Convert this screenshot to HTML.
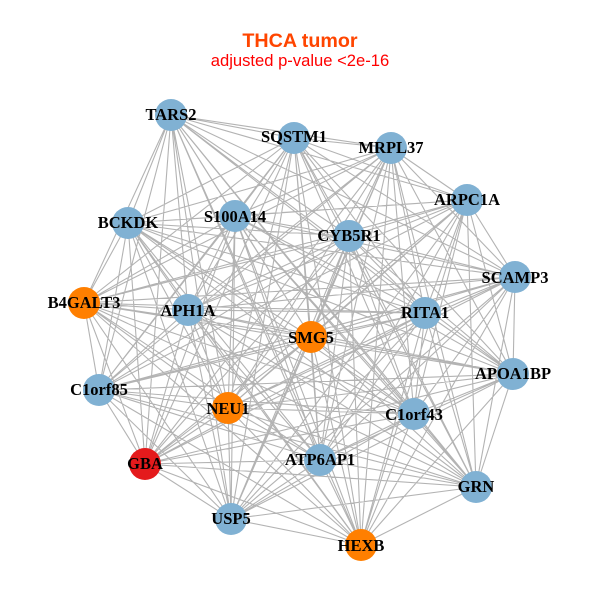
<!DOCTYPE html>
<html><head><meta charset="utf-8"><style>html,body{margin:0;padding:0;background:#fff}svg{display:block}</style></head>
<body><svg width="600" height="600" viewBox="0 0 600 600" xmlns="http://www.w3.org/2000/svg">
<rect width="600" height="600" fill="#fff"/>
<path fill="none" stroke="#b3b3b3" stroke-width="1.1" d="
M171 115L294 138M171 115L391 148M171 115L467 200M171 115L128 223M171 115L235 216M171 115L349 236M171 115L515 277M171 115L84 303M171 115L188 310M171 115L311 337M171 115L425 313M171 115L513 374M171 115L99 390M171 115L228 408M171 115L414 414M171 115L145 464M171 115L231 519M171 115L320 460M171 115L476 487M171 115L361 545
M294 138L391 148M294 138L467 200M294 138L128 223M294 138L235 216M294 138L349 236M294 138L515 277M294 138L84 303M294 138L188 310M294 138L311 337M294 138L425 313M294 138L513 374M294 138L99 390M294 138L228 408M294 138L414 414M294 138L145 464M294 138L231 519M294 138L320 460M294 138L476 487M294 138L361 545
M391 148L467 200M391 148L128 223M391 148L235 216M391 148L349 236M391 148L515 277M391 148L84 303M391 148L188 310M391 148L311 337M391 148L425 313M391 148L513 374M391 148L99 390M391 148L228 408M391 148L414 414M391 148L145 464M391 148L231 519M391 148L320 460M391 148L476 487M391 148L361 545
M467 200L128 223M467 200L235 216M467 200L349 236M467 200L515 277M467 200L84 303M467 200L188 310M467 200L311 337M467 200L425 313M467 200L513 374M467 200L99 390M467 200L228 408M467 200L414 414M467 200L145 464M467 200L231 519M467 200L320 460M467 200L476 487M467 200L361 545
M128 223L235 216M128 223L349 236M128 223L515 277M128 223L84 303M128 223L188 310M128 223L311 337M128 223L425 313M128 223L513 374M128 223L99 390M128 223L228 408M128 223L414 414M128 223L145 464M128 223L231 519M128 223L320 460M128 223L476 487M128 223L361 545
M235 216L349 236M235 216L515 277M235 216L84 303M235 216L188 310M235 216L311 337M235 216L425 313M235 216L513 374M235 216L99 390M235 216L228 408M235 216L414 414M235 216L145 464M235 216L231 519M235 216L320 460M235 216L476 487M235 216L361 545
M349 236L515 277M349 236L84 303M349 236L188 310M349 236L311 337M349 236L425 313M349 236L513 374M349 236L99 390M349 236L228 408M349 236L414 414M349 236L145 464M349 236L231 519M349 236L320 460M349 236L476 487M349 236L361 545
M515 277L84 303M515 277L188 310M515 277L311 337M515 277L425 313M515 277L513 374M515 277L99 390M515 277L228 408M515 277L414 414M515 277L145 464M515 277L231 519M515 277L320 460M515 277L476 487M515 277L361 545
M84 303L188 310M84 303L311 337M84 303L425 313M84 303L513 374M84 303L99 390M84 303L228 408M84 303L414 414M84 303L145 464M84 303L231 519M84 303L320 460M84 303L476 487M84 303L361 545
M188 310L311 337M188 310L425 313M188 310L513 374M188 310L99 390M188 310L228 408M188 310L414 414M188 310L145 464M188 310L231 519M188 310L320 460M188 310L476 487M188 310L361 545
M311 337L425 313M311 337L513 374M311 337L99 390M311 337L228 408M311 337L414 414M311 337L145 464M311 337L231 519M311 337L320 460M311 337L476 487M311 337L361 545
M425 313L513 374M425 313L99 390M425 313L228 408M425 313L414 414M425 313L145 464M425 313L231 519M425 313L320 460M425 313L476 487M425 313L361 545
M513 374L99 390M513 374L228 408M513 374L414 414M513 374L145 464M513 374L231 519M513 374L320 460M513 374L476 487M513 374L361 545
M99 390L228 408M99 390L414 414M99 390L145 464M99 390L231 519M99 390L320 460M99 390L476 487M99 390L361 545
M228 408L414 414M228 408L145 464M228 408L231 519M228 408L320 460M228 408L476 487M228 408L361 545
M414 414L145 464M414 414L231 519M414 414L320 460M414 414L476 487M414 414L361 545
M145 464L231 519M145 464L320 460M145 464L476 487M145 464L361 545
M231 519L320 460M231 519L476 487M231 519L361 545
M320 460L476 487M320 460L361 545
M476 487L361 545"/>
<g fill="#80b1d3">
<circle cx="171" cy="115" r="16"/><circle cx="294" cy="138" r="16"/><circle cx="391" cy="148" r="16"/><circle cx="467" cy="200" r="16"/><circle cx="128" cy="223" r="16"/><circle cx="235" cy="216" r="16"/><circle cx="349" cy="236" r="16"/><circle cx="515" cy="277" r="16"/><circle cx="188" cy="310" r="16"/><circle cx="425" cy="313" r="16"/><circle cx="513" cy="374" r="16"/><circle cx="99" cy="390" r="16"/><circle cx="414" cy="414" r="16"/><circle cx="231" cy="519" r="16"/><circle cx="320" cy="460" r="16"/><circle cx="476" cy="487" r="16"/>
</g>
<g fill="#ff7f00"><circle cx="84" cy="303" r="16"/><circle cx="311" cy="337" r="16"/><circle cx="228" cy="408" r="16"/><circle cx="361" cy="545" r="16"/></g>
<circle cx="145" cy="464" r="16" fill="#e41a1c"/>
<g font-family="'Liberation Serif',serif" font-weight="bold" font-size="16.5" text-anchor="middle" fill="#000">
<text x="171" y="120">TARS2</text><text x="294" y="142">SQSTM1</text><text x="391" y="153">MRPL37</text><text x="467" y="205">ARPC1A</text><text x="128" y="228">BCKDK</text><text x="235" y="222">S100A14</text><text x="349" y="241">CYB5R1</text><text x="515" y="283">SCAMP3</text><text x="84" y="308">B4GALT3</text><text x="188" y="316">APH1A</text><text x="311" y="343">SMG5</text><text x="425" y="318">RITA1</text><text x="513" y="379">APOA1BP</text><text x="99" y="395">C1orf85</text><text x="228" y="414">NEU1</text><text x="414" y="420">C1orf43</text><text x="145" y="469">GBA</text><text x="231" y="524">USP5</text><text x="320" y="465">ATP6AP1</text><text x="476" y="492">GRN</text><text x="361" y="551">HEXB</text>
</g>
<g font-family="'Liberation Sans',sans-serif" text-anchor="middle">
<text x="300" y="47" font-size="19.7" font-weight="bold" fill="#ff4500">THCA tumor</text>
<text x="300" y="66" font-size="16.6" fill="#ff0000">adjusted p-value &lt;2e-16</text>
</g>
</svg></body></html>
